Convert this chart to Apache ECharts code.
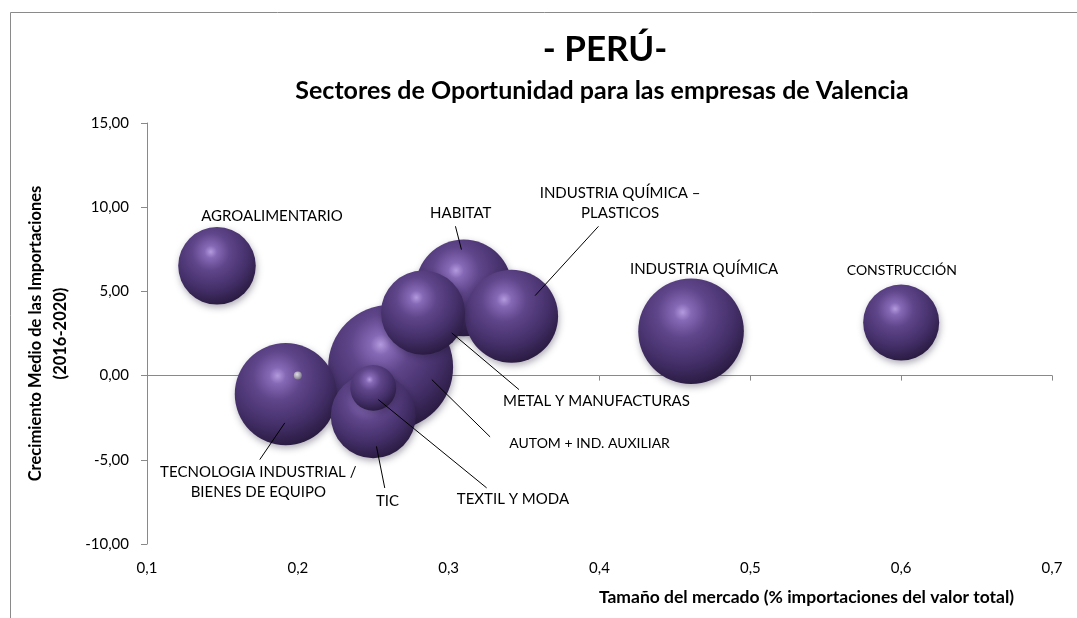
<!DOCTYPE html>
<html>
<head>
<meta charset="utf-8">
<script src="https://cdn.jsdelivr.net/npm/echarts@6/dist/echarts.min.js"></script>
<style>
html,body{margin:0;padding:0;background:#ffffff;}
#c{width:1077px;height:618px;}
</style>
</head>
<body>
<div id="c"></div>
<script>
// ---- Data ----
const sectores = [
  "AUTOM + IND. AUXILIAR",
  "INDUSTRIA QUÍMICA",
  "TECNOLOGIA INDUSTRIAL /\nBIENES DE EQUIPO",
  "HABITAT",
  "INDUSTRIA QUÍMICA –\nPLASTICOS",
  "TIC",
  "METAL Y MANUFACTURAS",
  "AGROALIMENTARIO",
  "CONSTRUCCIÓN",
  "TEXTIL Y MODA"
];
const tamanoMercado = [0.2615, 0.4607, 0.192, 0.310, 0.3417, 0.250, 0.283, 0.1464, 0.600, 0.250];
const crecimientoMedio = [0.50, 2.63, -1.10, 5.21, 3.53, -2.38, 3.74, 6.52, 3.15, -0.73];
const volumen = [100, 71.4, 66.6, 59.7, 55.4, 46.2, 45.2, 38.5, 37.0, 13.5];

// small grey reference point
const referenciaX = [0.2];
const referenciaY = [0.0];
const referenciaVol = [0.41];

const xTicks = ["0,1", "0,2", "0,3", "0,4", "0,5", "0,6", "0,7"];
const yTicks = ["-10,00", "-5,00", "0,00", "5,00", "10,00", "15,00"];

// ---- Presentation ----
const FONT = 'Lato';
const MAX_DIAM = 125;
const sizeFn = v => MAX_DIAM * Math.sqrt(v / 100);

// label offsets (px from bubble centre) and leader lines (px offsets from centre)
const labelLayout = {
  "AUTOM + IND. AUXILIAR": {off: [199, 76], line: [99.5, 69.7, 41.2, 12.4], size: 14},
  "INDUSTRIA QUÍMICA": {off: [13, -62]},
  "TECNOLOGIA INDUSTRIAL /\nBIENES DE EQUIPO": {off: [-27.5, 88.5], line: [-26, 65.5, -1, 28.8]},
  "HABITAT": {off: [-3, -75], line: [-8.3, -61.6, -2.3, -38.3]},
  "INDUSTRIA QUÍMICA –\nPLASTICOS": {off: [108.5, -112.5], line: [86.9, -89.8, 23.5, -20.5]},
  "TIC": {off: [14.3, 85.7], line: [11.5, 72.3, 3.2, 30.7]},
  "METAL Y MANUFACTURAS": {off: [173.4, 88.7], line: [96, 77, 28.7, 20.3]},
  "AGROALIMENTARIO": {off: [55, -49.5]},
  "CONSTRUCCIÓN": {off: [0.7, -52.5], size: 14},
  "TEXTIL Y MODA": {off: [139.7, 111.7], line: [113.4, 100, 5, 11.7]}
};

const bubbleFill = {
  type: 'radial', x: 0.42, y: 0.32, r: 0.8,
  colorStops: [
    {offset: 0, color: '#b39ade'},
    {offset: 0.1, color: '#8669b6'},
    {offset: 0.3, color: '#5f458a'},
    {offset: 0.6, color: '#45306a'},
    {offset: 0.85, color: '#2b1c44'},
    {offset: 1, color: '#191027'}
  ]
};
const greyFill = {
  type: 'radial', x: 0.4, y: 0.35, r: 0.75,
  colorStops: [
    {offset: 0, color: '#ffffff'},
    {offset: 0.4, color: '#c8c8c8'},
    {offset: 1, color: '#6e6e6e'}
  ]
};

const bubbleData = sectores.map((s, i) => {
  const L = labelLayout[s] || {off: [0, 0]};
  return {
    name: s,
    value: [tamanoMercado[i], crecimientoMedio[i], volumen[i]],
    label: {offset: L.off, fontSize: L.size || 15}
  };
});

const chart = echarts.init(document.getElementById('c'), null, {renderer: 'canvas'});

const option = {
  backgroundColor: '#ffffff',
  animation: false,
  textStyle: {fontFamily: FONT},
  title: [
    {text: '- PERÚ-', left: 600, top: 27, textAlign: 'center',
     textStyle: {fontFamily: FONT, fontWeight: 'bold', fontSize: 35, color: '#000'}},
    {text: 'Sectores de Oportunidad para las empresas de Valencia', left: 597, top: 73, textAlign: 'center',
     textStyle: {fontFamily: FONT, fontWeight: 'bold', fontSize: 25, color: '#000'}}
  ],
  grid: {left: 147, right: 25, top: 123, bottom: 74, containLabel: false},
  xAxis: [
    {
      type: 'value', min: 0.1, max: 0.7, interval: 0.1,
      axisLine: {show: true, onZero: true, lineStyle: {color: '#898989', width: 1}},
      axisTick: {show: true, length: 5, inside: false, lineStyle: {color: '#898989'}},
      axisLabel: {show: false},
      splitLine: {show: false}
    },
    {
      type: 'value', min: 0.1, max: 0.7, interval: 0.1, position: 'bottom',
      axisLine: {show: false, onZero: false},
      axisTick: {show: false},
      axisLabel: {show: true, margin: 17, fontFamily: FONT, fontSize: 15, color: '#000',
        formatter: v => xTicks[Math.round((v - 0.1) * 10)]},
      splitLine: {show: false},
      name: 'Tamaño del mercado (% importaciones del valor total)',
      nameLocation: 'middle', nameGap: 44,
      nameTextStyle: {fontFamily: FONT, fontWeight: 'bold', fontSize: 17.5, color: '#000', padding: [0, 0, 0, 414]}
    }
  ],
  yAxis: {
    type: 'value', min: -10, max: 15, interval: 5,
    axisLine: {show: true, onZero: false, lineStyle: {color: '#898989', width: 1}},
    axisTick: {show: true, length: 6, inside: false, lineStyle: {color: '#898989'}},
    axisLabel: {margin: 18, fontFamily: FONT, fontSize: 15, color: '#000',
      formatter: v => yTicks[Math.round((v + 10) / 5)]},
    splitLine: {show: false},
    name: 'Crecimiento Medio de las Importaciones\n(2016-2020)',
    nameLocation: 'middle', nameRotate: 90, nameGap: 74,
    nameTextStyle: {fontFamily: FONT, fontWeight: 'bold', fontSize: 16.5, color: '#000', lineHeight: 25, align: 'center'}
  },
  series: [
    {
      type: 'scatter', xAxisIndex: 0, yAxisIndex: 0,
      data: bubbleData,
      symbol: 'circle',
      symbolSize: d => sizeFn(d[2]),
      silent: true,
      emphasis: {disabled: true},
      itemStyle: {
        color: bubbleFill, opacity: 1,
        shadowBlur: 7, shadowOffsetX: 1, shadowOffsetY: 3, shadowColor: 'rgba(30,20,50,0.35)'
      },
      label: {
        show: true, position: 'inside', formatter: p => p.name,
        fontFamily: FONT, fontSize: 15, color: '#000', lineHeight: 20, align: 'center', verticalAlign: 'middle'
      },
      z: 2
    },
    {
      type: 'scatter', xAxisIndex: 0, yAxisIndex: 0,
      data: referenciaX.map((x, i) => [x, referenciaY[i], referenciaVol[i]]),
      symbolSize: d => sizeFn(d[2]),
      silent: true,
      emphasis: {disabled: true},
      itemStyle: {color: greyFill},
      z: 3
    }
  ]
};

chart.setOption(option);

// leader lines, anchored on the bubble centres through the chart's own scales
const graphics = [{
  type: 'rect', silent: true, z: 0,
  shape: {x: 10.5, y: 12.5, width: 1100, height: 640},
  style: {fill: 'none', stroke: '#8a8a8a', lineWidth: 1}
}];
sectores.forEach((s, i) => {
  const L = labelLayout[s];
  if (!L || !L.line) return;
  const c = chart.convertToPixel({xAxisIndex: 0, yAxisIndex: 0}, [tamanoMercado[i], crecimientoMedio[i]]);
  graphics.push({
    type: 'line', silent: true, z: 50,
    shape: {x1: c[0] + L.line[0], y1: c[1] + L.line[1], x2: c[0] + L.line[2], y2: c[1] + L.line[3]},
    style: {stroke: '#000000', lineWidth: 1}
  });
});
chart.setOption({graphic: graphics});
</script>
</body>
</html>
